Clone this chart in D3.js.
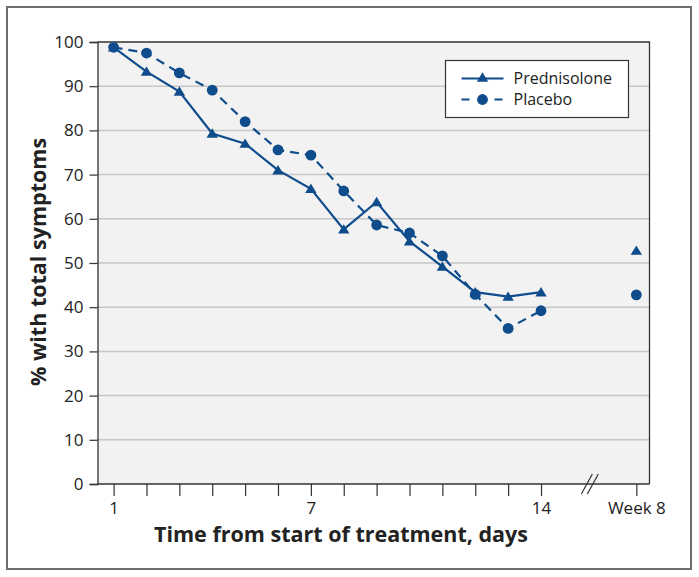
<!DOCTYPE html>
<html>
<head>
<meta charset="utf-8">
<script src="https://cdn.jsdelivr.net/npm/d3@7"></script>
<style>
  html, body { margin: 0; padding: 0; background: #fff; }
  svg { display: block; font-family: "Open Sans", "Noto Sans", sans-serif; }
</style>
</head>
<body>
<svg id="chart" width="699" height="577"></svg>
<script>
// ---- data ----
const days = [1, 2, 3, 4, 5, 6, 7, 8, 9, 10, 11, 12, 13, 14];
const prednisolone = [98.8, 93.3, 88.8, 79.3, 77.0, 71.0, 66.8, 57.6, 63.8, 54.9, 49.2, 43.4, 42.4, 43.4];
const placebo = [98.8, 97.5, 93.0, 89.1, 82.0, 75.6, 74.4, 66.3, 58.6, 56.8, 51.6, 42.9, 35.2, 39.2];
const week8Position = 16.9;
const week8Prednisolone = 52.8;
const week8Placebo = 42.8;
const yTicks = [0, 10, 20, 30, 40, 50, 60, 70, 80, 90, 100];
const xLabelTicks = [1, 7, 14];
const week8Label = "Week 8";
const seriesNames = ["Prednisolone", "Placebo"];
const xTitle = "Time from start of treatment, days";
const yTitle = "% with total symptoms";

// ---- layout ----
const color = "#0e4c8b";
const plot = { left: 97.5, right: 649.5, top: 42, bottom: 484 };
const svg = d3.select("#chart");

// outer frame
svg.append("rect").attr("x", 7).attr("y", 7).attr("width", 684).attr("height", 562)
  .attr("fill", "#fff").attr("stroke", "#6e6e6e").attr("stroke-width", 2);

const x = d3.scaleLinear().domain([0.51, 17.3]).range([plot.left, plot.right]);
const y = d3.scaleLinear().domain([0, 100]).range([plot.bottom, plot.top]);

// plot background
svg.append("rect").attr("x", plot.left).attr("y", plot.top)
  .attr("width", plot.right - plot.left).attr("height", plot.bottom - plot.top)
  .attr("fill", "#f2f2f2");

// gridlines
svg.append("g").selectAll("line").data(yTicks.filter(d => d > 0 && d < 100)).join("line")
  .attr("x1", plot.left).attr("x2", plot.right)
  .attr("y1", d => y(d)).attr("y2", d => y(d))
  .attr("stroke", "#c6c6c6").attr("stroke-width", 1.5);

// plot frame (top and right)
svg.append("path")
  .attr("d", `M${plot.left},${plot.top}H${plot.right}V${plot.bottom}`)
  .attr("fill", "none").attr("stroke", "#333").attr("stroke-width", 1.3);

// y axis
const yAxis = d3.axisLeft(y).tickValues(yTicks).tickSize(8).tickPadding(6);
const gy = svg.append("g").attr("transform", `translate(${plot.left},0)`).call(yAxis);
gy.select(".domain").attr("stroke", "#333").attr("stroke-width", 1.3);
gy.selectAll(".tick line").attr("stroke", "#333").attr("stroke-width", 1.2);
gy.selectAll(".tick text").attr("font-size", 17).attr("fill", "#222")
  .attr("font-family", "'Open Sans', sans-serif");

// x axis: all days + week 8
const xAllTicks = days.concat([week8Position]);
const xAxis = d3.axisBottom(x).tickValues(xAllTicks).tickSize(12).tickPadding(6)
  .tickFormat(d => d === week8Position ? week8Label : (xLabelTicks.includes(d) ? String(d) : ""));
const gx = svg.append("g").attr("transform", `translate(0,${plot.bottom})`).call(xAxis);
gx.select(".domain").attr("stroke", "#333").attr("stroke-width", 1.3)
  .attr("d", `M${plot.left},0H${plot.right}`);
gx.selectAll(".tick line").attr("stroke", "#333").attr("stroke-width", 1.2);
gx.selectAll(".tick text").attr("font-size", 17).attr("fill", "#222")
  .attr("font-family", "'Open Sans', sans-serif");

// axis break marks
const breakPos = 15.47;
const bg = svg.append("g");
[0, 6].forEach(off => {
  bg.append("line")
    .attr("x1", x(breakPos) - 8 + off).attr("y1", plot.bottom + 10)
    .attr("x2", x(breakPos) + 3 + off).attr("y2", plot.bottom - 10)
    .attr("stroke", "#333").attr("stroke-width", 1.2);
});

// series
const predData = days.map((d, i) => ({ x: d, y: prednisolone[i] }));
const placData = days.map((d, i) => ({ x: d, y: placebo[i] }));
const line = d3.line().x(d => x(d.x)).y(d => y(d.y));

svg.append("path").datum(placData).attr("d", line)
  .attr("fill", "none").attr("stroke", color).attr("stroke-width", 2.2)
  .attr("stroke-dasharray", "9,6");
svg.append("path").datum(predData).attr("d", line)
  .attr("fill", "none").attr("stroke", color).attr("stroke-width", 2.2);

// triangle marker: ~11px wide, ~9px tall
const triType = {
  draw(context, size) {
    const w = Math.sqrt(size), h = w * 0.82;
    context.moveTo(0, -h * 0.55);
    context.lineTo(w / 2, h * 0.45);
    context.lineTo(-w / 2, h * 0.45);
    context.closePath();
  }
};
const tri = d3.symbol().type(triType).size(130);
const allPred = predData.concat([{ x: week8Position, y: week8Prednisolone }]);
const allPlac = placData.concat([{ x: week8Position, y: week8Placebo }]);

svg.append("g").selectAll("path").data(allPred).join("path")
  .attr("d", tri).attr("transform", d => `translate(${x(d.x)},${y(d.y)})`).attr("fill", color);
svg.append("g").selectAll("circle").data(allPlac).join("circle")
  .attr("cx", d => x(d.x)).attr("cy", d => y(d.y)).attr("r", 5.4).attr("fill", color);

// legend
const lg = svg.append("g").attr("transform", "translate(445.5,60.5)");
lg.append("rect").attr("width", 183).attr("height", 57)
  .attr("fill", "#fff").attr("stroke", "#333").attr("stroke-width", 1.2);
lg.append("line").attr("x1", 16).attr("x2", 58).attr("y1", 18).attr("y2", 18)
  .attr("stroke", color).attr("stroke-width", 2.2);
lg.append("path").attr("d", tri).attr("transform", "translate(37,17)").attr("fill", color);
lg.append("line").attr("x1", 16).attr("x2", 58).attr("y1", 39).attr("y2", 39)
  .attr("stroke", color).attr("stroke-width", 2.2).attr("stroke-dasharray", "8,8.5");
lg.append("circle").attr("cx", 37).attr("cy", 39).attr("r", 5.4).attr("fill", color);
lg.selectAll("text").data(seriesNames).join("text")
  .attr("x", 68).attr("y", (d, i) => 18 + i * 21).attr("dy", "0.35em")
  .attr("font-size", 16).attr("fill", "#222").text(d => d);

// axis titles
svg.append("text").attr("x", 341).attr("y", 542).attr("text-anchor", "middle")
  .attr("font-size", 21.5).attr("font-weight", "bold").attr("fill", "#222").text(xTitle);
svg.append("text").attr("transform", "translate(38,262) rotate(-90)")
  .attr("text-anchor", "middle").attr("dy", "0.35em")
  .attr("font-size", 21.5).attr("font-weight", "bold").attr("fill", "#222").text(yTitle);
</script>
</body>
</html>
